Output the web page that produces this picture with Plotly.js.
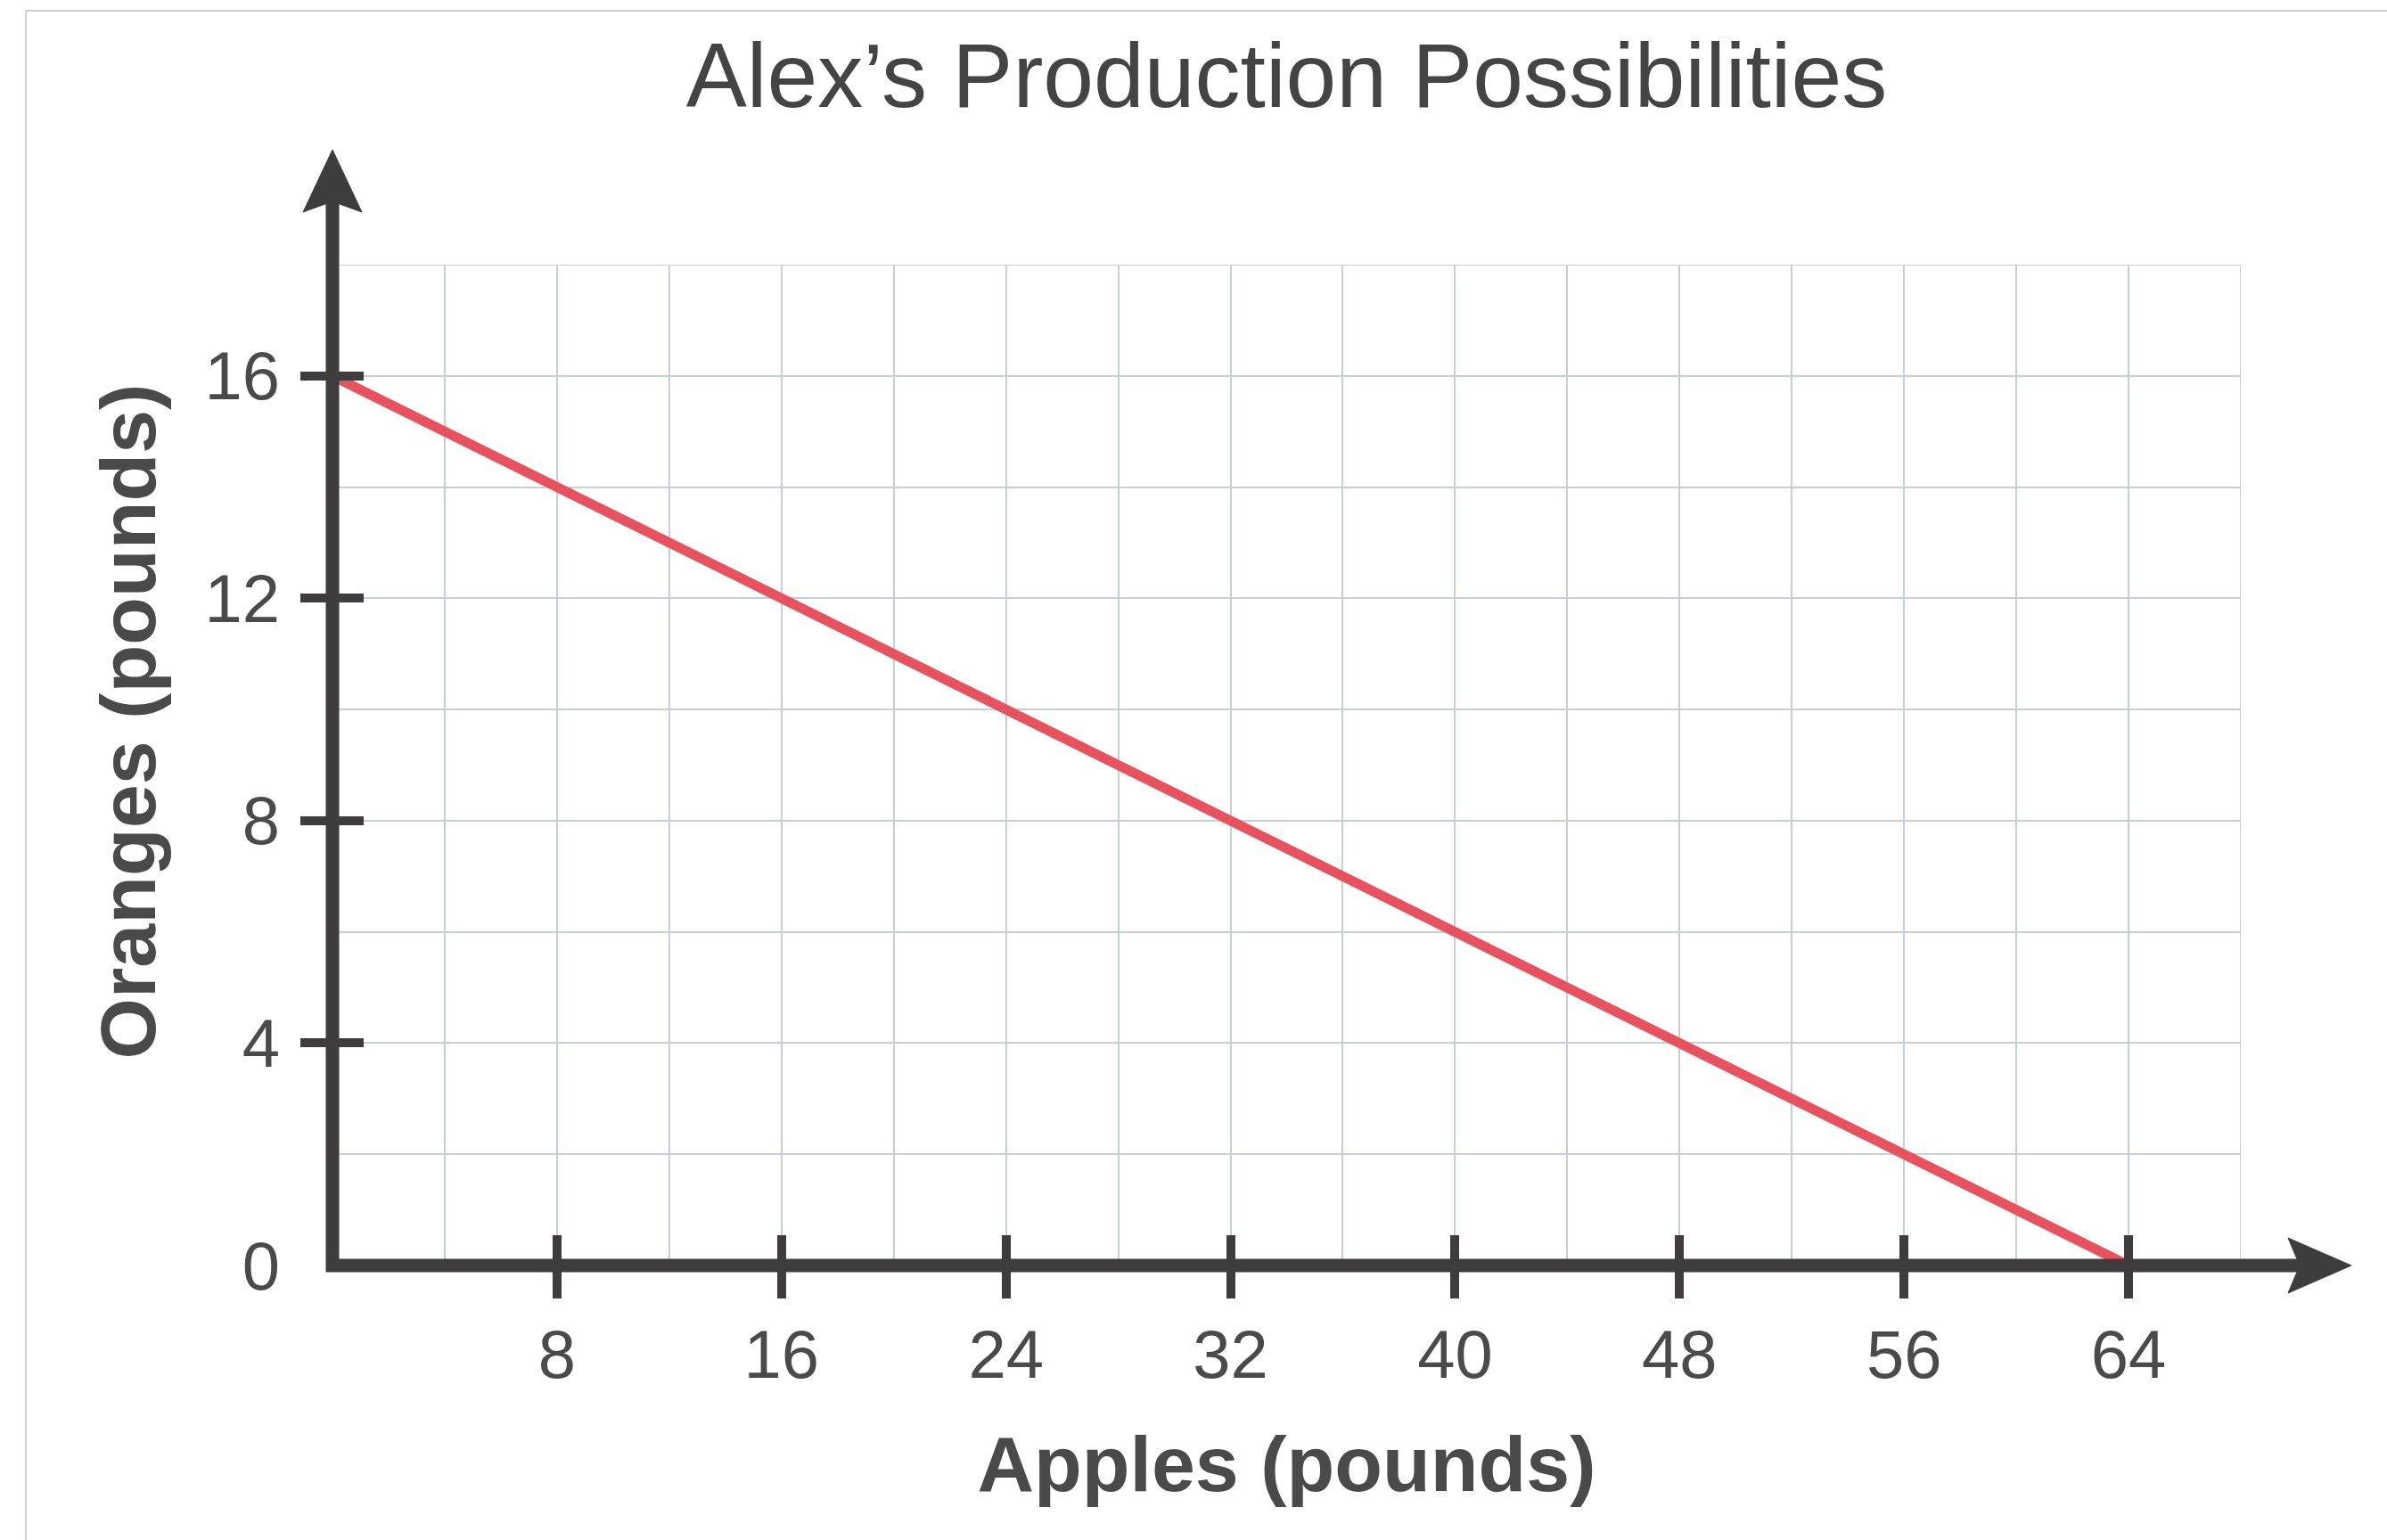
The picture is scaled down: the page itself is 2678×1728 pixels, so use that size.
<!DOCTYPE html>
<html><head><meta charset="utf-8">
<script src="https://cdn.plot.ly/plotly-3.0.1.min.js"></script>
<style>html,body{margin:0;padding:0;background:#fff;overflow:hidden;} #chart{width:2678px;height:1728px;}</style>
</head><body><div id="chart"></div>
<script>
// ---- data ----
const apples = [0, 64];
const oranges = [16, 0];
const xTickVals = [8, 16, 24, 32, 40, 48, 56, 64];
const xTickText = ['8', '16', '24', '32', '40', '48', '56', '64'];
const yTickVals = [4, 8, 12, 16];
const yLabelVals = [0, 4, 8, 12, 16];
const yLabelText = ['0', '4', '8', '12', '16'];
const chartTitle = 'Alex’s Production Possibilities';
const xTitle = 'Apples (pounds)';
const yTitle = 'Oranges (pounds)';

// ---- geometry / style ----
const W = 2678, H = 1728, L = 373, R = 164, T = 297, B = 308;
const pw = W - L - R, ph = H - T - B;
const px = p => (p - L) / pw;
const py = p => (H - B - p) / ph;
const axisColor = '#3f3c3d';
const gridColor = '#c4cfd7';
const textColor = '#4a4a4a';
const fontFam = '"Liberation Sans", Arial, sans-serif';
const baseY = H - B;

const traces = [
  {x: apples, y: oranges, type: 'scatter', mode: 'lines',
   line: {color: '#e8525e', width: 11}, hoverinfo: 'skip', showlegend: false},
  {x: [], y: [], xaxis: 'x2', yaxis: 'y2', type: 'scatter', mode: 'lines', showlegend: false, hoverinfo: 'skip'}
];

const shapes = [
  // grid border (top / right edges)
  {type: 'rect', xref: 'x', yref: 'y', x0: 0, x1: 68, y0: 0, y1: 18,
   line: {color: gridColor, width: 2}, layer: 'below'},
  // x axis line
  {type: 'line', xref: 'paper', yref: 'paper', x0: px(L - 7), x1: px(2585), y0: 0, y1: 0,
   line: {color: axisColor, width: 15}, layer: 'above'},
  // y axis line
  {type: 'line', xref: 'paper', yref: 'paper', x0: 0, x1: 0, y0: py(baseY + 7), y1: py(222),
   line: {color: axisColor, width: 15}, layer: 'above'},
  // x arrow head
  {type: 'path', xref: 'paper', yref: 'paper', layer: 'above',
   path: `M ${px(2567)} ${py(baseY - 31)} L ${px(2638)} ${py(baseY)} L ${px(2567)} ${py(baseY + 31)} L ${px(2580)} ${py(baseY)} Z`,
   fillcolor: axisColor, line: {color: axisColor, width: 1}},
  // y arrow head
  {type: 'path', xref: 'paper', yref: 'paper', layer: 'above',
   path: `M ${px(L - 33)} ${py(238)} L ${px(L)} ${py(168)} L ${px(L + 33)} ${py(238)} L ${px(L)} ${py(226)} Z`,
   fillcolor: axisColor, line: {color: axisColor, width: 1}},
  // frame lines of the scanned page
  {type: 'line', xref: 'paper', yref: 'paper', x0: px(29), x1: px(W), y0: py(12), y1: py(12),
   line: {color: '#cfcfcf', width: 2}, layer: 'above'},
  {type: 'line', xref: 'paper', yref: 'paper', x0: px(29), x1: px(29), y0: py(12), y1: py(H),
   line: {color: '#cfcfcf', width: 2}, layer: 'above'}
];

const layout = {
  width: W, height: H,
  margin: {l: L, r: R, t: T, b: B, pad: 0},
  paper_bgcolor: '#ffffff', plot_bgcolor: 'rgba(0,0,0,0)',
  showlegend: false,
  title: {text: chartTitle, x: 0.5, xref: 'paper', xanchor: 'center',
          y: 1 - 84 / H, yref: 'container', yanchor: 'middle',
          font: {family: fontFam, size: 102, color: '#444444'}},
  xaxis: {range: [0, 68], fixedrange: true, showline: false, zeroline: false,
          tickmode: 'array', tickvals: xTickVals, ticktext: xTickText,
          ticks: 'inside', ticklen: 34, tickwidth: 10, tickcolor: axisColor,
          ticklabelstandoff: 49,
          tickfont: {family: fontFam, size: 76, color: textColor},
          showgrid: true, gridcolor: gridColor, gridwidth: 2,
          minor: {dtick: 4, tick0: 0, showgrid: true, gridcolor: gridColor, gridwidth: 2, ticks: ''},
          title: {text: xTitle, standoff: 50,
                  font: {family: fontFam, size: 88, color: textColor, weight: 700}}},
  yaxis: {range: [0, 18], fixedrange: true, showline: false, zeroline: false,
          tickmode: 'array', tickvals: yLabelVals, ticktext: yLabelText,
          ticks: 'inside', ticklen: 35, tickwidth: 10, tickcolor: axisColor,
          ticklabelstandoff: 58,
          tickfont: {family: fontFam, size: 76, color: textColor},
          showgrid: true, gridcolor: gridColor, gridwidth: 2,
          minor: {dtick: 2, tick0: 0, showgrid: true, gridcolor: gridColor, gridwidth: 2, ticks: ''},
          title: {text: yTitle, standoff: 25,
                  font: {family: fontFam, size: 88, color: textColor, weight: 700}}},
  xaxis2: {range: [0, 68], overlaying: 'x', anchor: 'y2', side: 'bottom', fixedrange: true,
           showline: false, zeroline: false, showgrid: false, showticklabels: false,
           tickmode: 'array', tickvals: xTickVals,
           ticks: 'outside', ticklen: 36, tickwidth: 10, tickcolor: axisColor},
  yaxis2: {range: [0, 18], overlaying: 'y', anchor: 'x2', side: 'left', fixedrange: true,
           showline: false, zeroline: false, showgrid: false, showticklabels: false,
           tickmode: 'array', tickvals: yTickVals,
           ticks: 'outside', ticklen: 35, tickwidth: 10, tickcolor: axisColor},
  shapes: shapes
};

Plotly.newPlot('chart', traces, layout, {staticPlot: true, displayModeBar: false}).then(() => {
  const t = document.querySelector('.g-ytitle text');
  if (t) {
    const tr = t.getAttribute('transform') || '';
    t.setAttribute('transform', 'translate(0,-49) ' + tr);
  }
});
</script>
</body></html>
